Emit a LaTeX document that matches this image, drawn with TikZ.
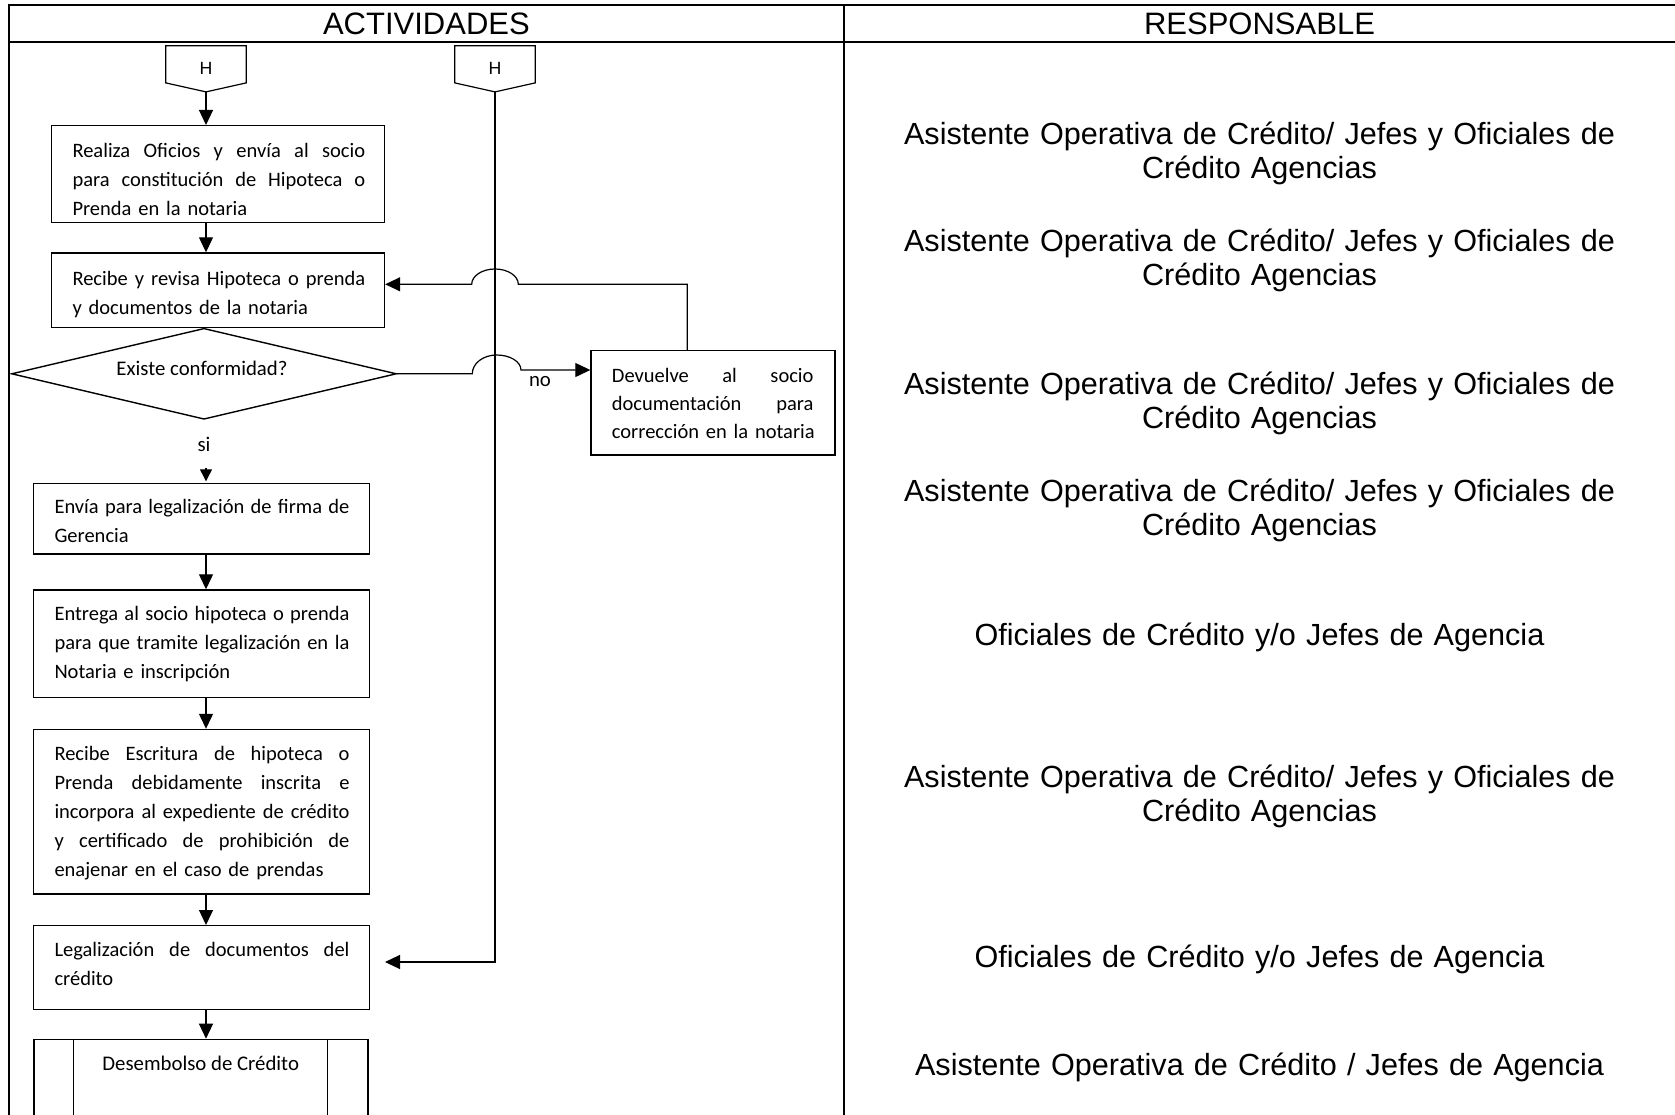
\documentclass[tikz,border=0pt]{standalone}
\usepackage{fontspec}
\setmainfont{Liberation Sans}
\newfontfamily\calib{Carlito}
\newfontfamily\arialf{Liberation Sans}
\usetikzlibrary{arrows.meta,shapes.geometric,calc}
% a justified line: word gaps widened evenly to fill the width \tw
\newlength\tw
\newcommand\jline[1]{\leavevmode\hbox to \tw{\spaceskip=0.23em plus 1fil minus 0.08em\relax #1}}
% a closing line that is never broken
\newcommand\lline[1]{\leavevmode\mbox{#1}}

\begin{document}
\begin{tikzpicture}[x=1pt,y=-1pt,
  frame/.style={line width=2pt},
  box/.style={draw, line width=1.4pt, inner sep=0pt, rectangle},
  conn/.style={line width=1.2pt},
  arr/.style={conn, -{Triangle[length=15pt,width=14pt]}},
  boxtxt/.style={inner sep=0pt, anchor=base west, align=left, font=\calib\fontsize{20.5}{29}\selectfont},
  resp/.style={inner sep=0pt, anchor=base, text width=800pt, align=center, font=\arialf\fontsize{30.6}{34.2}\selectfont},
  head/.style={inner sep=0pt, anchor=base, font=\arialf\fontsize{31}{34}\selectfont},
  offpage/.style={inner sep=0pt, minimum width=80pt, minimum height=45.7pt, font=\arialf\fontsize{17.7}{20}\selectfont},
  lbl/.style={inner sep=0pt, anchor=base, font=\calib\fontsize{20.8}{25}\selectfont},
]
\useasboundingbox (0,0) rectangle (1675,1115);
\clip (0,0) rectangle (1675,1115);

% table frame
\draw[frame] (8.7,1130) -- (8.7,5) -- (1690,5);
\draw[frame] (8.7,41.7) -- (1690,41.7);
\draw[frame] (844,5) -- (844,1130);
\node[head] (hact) at (426.4,35) {ACTIVIDADES};
\node[head] (hresp) at (1259.5,35) {RESPONSABLE};

% off-page connectors
\node[offpage] (h1) at (206,68.85) {\raisebox{-1.85pt}{H}};
\node[offpage] (h2) at (495,68.85) {\raisebox{-1.85pt}{H}};
\foreach \n in {h1,h2}
  \draw[conn] (\n.north west) -- (\n.north east) -- ($(\n.south east)+(0,-9)$)
     -- (\n.south) -- ($(\n.south west)+(0,-9)$) -- cycle;

% process boxes
\node[box, minimum width=333pt, minimum height=96.8pt] (b1) at (218,174.1) {};
\node[box, minimum width=333pt, minimum height=74.5pt] (b2) at (218,290.25) {};
\node[draw, diamond, line width=1.4pt, inner sep=0pt, aspect=4.23,
      minimum width=385pt, minimum height=91pt] (dec) at (204,373.8) {};
\node[box, minimum width=336pt, minimum height=70.5pt] (b3) at (201.5,518.75) {};
\node[box, minimum width=336pt, minimum height=107.7pt] (b4) at (201.5,643.85) {};
\node[box, minimum width=336pt, minimum height=164.5pt] (b5) at (201.5,811.75) {};
\node[box, minimum width=336pt, minimum height=83.6pt] (b6) at (201.5,967.5) {};
\node[box, minimum width=334pt, minimum height=100pt] (b7) at (201,1089.4) {};
\draw[line width=1.4pt] ([xshift=40pt]b7.north west) -- ([xshift=40pt]b7.south west);
\draw[line width=1.4pt] ([xshift=-41.5pt]b7.north east) -- ([xshift=-41.5pt]b7.south east);
\node[box, minimum width=244pt, minimum height=104.3pt] (dev) at (713,402.85) {};

% box texts
\begin{scope}
  \clip (51.5,125.7) rectangle (384.5,216.7);
  \node[boxtxt, text width=292.7pt] (t1) at (72.3,158)
    {\setlength\tw{292.7pt}\jline{Realiza Oficios y envía al socio}\\\jline{para constitución de Hipoteca o}\\\lline{Prenda en la notaria}};
\end{scope}
\node[boxtxt, text width=292.7pt] (t2) at (72.3,285)
  {\setlength\tw{292.7pt}\jline{Recibe y revisa Hipoteca o prenda}\\\lline{y documentos de la notaria}};
\node[lbl] (tdec) at (202,375) {Existe conformidad?};
\node[boxtxt, text width=295pt] (t3) at (54.3,513.5)
  {\setlength\tw{295pt}\jline{Envía para legalización de firma de}\\\lline{Gerencia}};
\node[boxtxt, text width=295pt] (t4) at (54.3,620)
  {\setlength\tw{295pt}\jline{Entrega al socio hipoteca o prenda}\\\jline{para que tramite legalización en la}\\\lline{Notaria e inscripción}};
\node[boxtxt, text width=295pt] (t5) at (54.3,760)
  {\setlength\tw{295pt}\jline{Recibe Escritura de hipoteca o}\\\jline{Prenda debidamente inscrita e}\\\jline{incorpora al expediente de crédito}\\\jline{y certificado de prohibición de}\\\lline{enajenar en el caso de prendas}};
\node[boxtxt, text width=295pt] (t6) at (54.3,956)
  {\setlength\tw{295pt}\jline{Legalización de documentos del}\\\lline{crédito}};
\node[lbl] (t8) at (200.7,1070) {Desembolso de Crédito};
\node[boxtxt, text width=201.6pt, font=\calib\fontsize{20.5}{28.3}\selectfont] (t7) at (611.7,382)
  {\setlength\tw{201.6pt}\jline{Devuelve al socio}\\\jline{documentación para}\\\lline{corrección en la notaria}};

% main flow
\draw[arr] (h1.south) -- (h1.south |- b1.north);
\draw[arr] (b1.south -| h1.south) -- (b2.north -| h1.south);
\draw[conn, -{Triangle[length=12pt,width=12pt]}] (dec.south -| h1.south) -- ([yshift=1.5pt]b3.north -| h1.south);
\node[fill=white, inner sep=0pt, minimum width=24pt, minimum height=48pt,
      font=\calib\fontsize{20.8}{25}\selectfont] (lsi) at (204,444) {si};
\draw[arr] (b3.south -| h1.south) -- (b4.north -| h1.south);
\draw[arr] (b4.south -| h1.south) -- (b5.north -| h1.south);
\draw[arr] (b5.south -| h1.south) -- (b6.north -| h1.south);
\draw[arr] (b6.south -| h1.south) -- (b7.north -| h1.south);

% "no" branch and return path, hopping over the H line
\draw[arr] (dec.east) -- (472.3,373.8)
  .. controls (472.3,363.3) and (483.2,355) .. (496.7,355)
  .. controls (510.1,355) and (521,361.7) .. (521,370)
  -- ([yshift=32.85pt]dev.west);
\node[lbl] (lno) at (540,386.7) {no};
\draw[arr] ([xshift=-25.7pt]dev.north) -- (687.3,284.3) -- (518.3,284.3)
  .. controls (518.3,275.85) and (507.87,269) .. (495,269)
  .. controls (482.13,269) and (471.7,275.85) .. (471.7,284.3)
  -- ([yshift=5.95pt]b2.east);

% second off-page connector into the legalisation step
\coordinate (c6) at (385,962);
\draw[arr] (h2.south) |- (c6);

% responsible column
\node[resp] (r1) at (1259.5,144.5) {Asistente Operativa de Crédito/ Jefes y Oficiales de\\Crédito Agencias};
\node[resp] (r2) at (1259.5,251.3) {Asistente Operativa de Crédito/ Jefes y Oficiales de\\Crédito Agencias};
\node[resp] (r3) at (1259.5,394.5) {Asistente Operativa de Crédito/ Jefes y Oficiales de\\Crédito Agencias};
\node[resp] (r4) at (1259.5,501.3) {Asistente Operativa de Crédito/ Jefes y Oficiales de\\Crédito Agencias};
\node[resp] (r5) at (1259.5,645.5) {Oficiales de Crédito y/o Jefes de Agencia};
\node[resp] (r6) at (1259.5,787.6) {Asistente Operativa de Crédito/ Jefes y Oficiales de\\Crédito Agencias};
\node[resp] (r7) at (1259.5,967) {Oficiales de Crédito y/o Jefes de Agencia};
\node[resp] (r8) at (1259.5,1075) {Asistente Operativa de Crédito / Jefes de Agencia};
\end{tikzpicture}
\end{document}
